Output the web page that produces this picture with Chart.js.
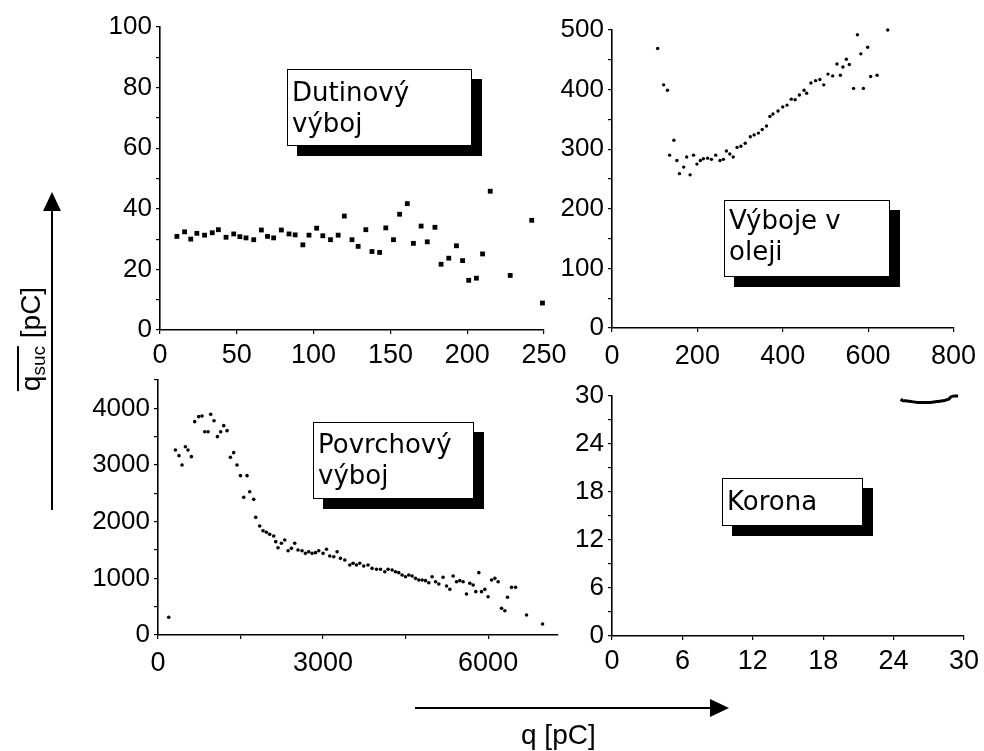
<!DOCTYPE html>
<html>
<head>
<meta charset="utf-8">
<script src="https://cdn.jsdelivr.net/npm/chart.js@4.4.1/dist/chart.umd.min.js"></script>
<style>
  body { margin: 0; background: #fff; }
  #wrap { position: relative; width: 984px; height: 751px; overflow: hidden; background: #fff; }
  canvas { position: absolute; left: 0; top: 0; }
  .note {
    position: absolute; box-sizing: border-box; background: #fff;
    border: 1.5px solid #000; box-shadow: 10px 10px 0 #000;
    font-family: "DejaVu Sans", sans-serif; font-size: 26px; line-height: 31px;
    color: #000; padding-left: 4px; white-space: nowrap; z-index: 5;
  }
  .title { position: absolute; font-family: "Liberation Sans", Arial, sans-serif; font-size: 28px; color: #000; white-space: nowrap; z-index: 5; }
  .ov { display: inline-block; border-top: 2px solid #000; line-height: 24px; }
  .ov sub { font-size: 19px; vertical-align: -5px; line-height: 0; }
  svg { position: absolute; left: 0; top: 0; z-index: 4; }
</style>
</head>
<body>
<div id="wrap">
  <canvas id="tl" width="984" height="751"></canvas>
  <canvas id="tr" width="984" height="751"></canvas>
  <canvas id="bl" width="984" height="751"></canvas>
  <canvas id="br" width="984" height="751"></canvas>

  <div class="note" style="left:287px; top:69px; width:185px; height:77px; padding-top:7px;">Dutinový<br>výboj</div>
  <div class="note" style="left:724px; top:200px; width:166px; height:77px; padding-top:4px;">Výboje v<br>oleji</div>
  <div class="note" style="left:313px; top:422px; width:161px; height:77px; padding-top:6px;">Povrchový<br>výboj</div>
  <div class="note" style="left:722px; top:478px; width:141px; height:48px; padding-top:7px;">Korona</div>

  <div class="title" style="left:31px; top:339px; transform: translate(-50%, -50%) rotate(-90deg);"><span class="ov">q<sub>suc</sub></span> [pC]</div>
  <div class="title" style="left:521px; top:721px; line-height:28px;">q [pC]</div>

  <svg width="984" height="751">
    <line x1="52" y1="510" x2="52" y2="208" stroke="#000" stroke-width="2"/>
    <polygon points="52,192 43,211 61,211" fill="#000"/>
    <line x1="415" y1="708" x2="714" y2="708" stroke="#000" stroke-width="2"/>
    <polygon points="729,708 710,699 710,717" fill="#000"/>
  </svg>
</div>

<script>
// ---- Dutinový výboj (top left)
const tlX = [11,16,20,24,29,34,38,43,48,52,56,61,66,70,74,79,84,88,93,97,102,106,111,116,120,125,129,134,138,143,147,152,156,161,165,170,174,179,183,188,193,197,201,206,210,215,228,242,249];
const tlY = [30.9,32.4,30.0,31.9,31.3,32.1,33.1,30.6,31.7,30.8,30.4,29.8,33.0,30.9,30.4,33.0,31.7,31.4,28.1,31.3,33.6,31.1,29.8,31.3,37.6,29.8,27.6,33.1,25.9,25.6,33.7,29.8,38.2,41.7,28.6,34.3,29.1,33.9,21.7,23.7,27.8,22.9,16.4,17.1,25.1,45.8,18.0,36.2,8.9];

// ---- Výboje v oleji (top right)
const trX = [107,121,130,135,145,152,158,168,175,183,191,199,207,214,224,233,243,253,261,268,276,284,293,302,312,324,333,343,352,362,370,377,389,400,410,420,429,439,450,456,466,477,487,496,506,517,527,535,541,549,556,566,575,583,589,599,606,621,646];
const trY = [469,408,399,290,315,281,259,270,287,257,290,275,281,284,285,283,290,281,283,297,292,287,303,305,310,321,324,327,333,339,355,359,364,371,374,384,383,391,399,394,411,415,417,408,426,423,443,424,438,451,442,402,492,460,402,471,422,424,500];

// ---- Povrchový výboj (bottom left)
const blX = [195,316,382,436,498,545,607,667,740,800,849,909,958,1018,1080,1140,1195,1255,1316,1376,1436,1498,1618,1558,1667,1740,1776,1849,1909,1970,2030,2103,2140,2182,2243,2304,2364,2425,2485,2545,2618,2680,2740,2800,2862,2922,3000,3062,3122,3195,3255,3316,3395,3485,3545,3607,3667,3740,3818,3891,3971,4044,4122,4182,4255,4316,4376,4436,4498,4558,4618,4680,4740,4800,4862,4922,4982,5044,5104,5182,5244,5304,5364,5426,5485,5545,5607,5667,5727,5776,5831,5880,5940,6000,6062,6122,6182,6244,6304,6353,6425,6498,6698,6989];
const blY = [312,3265,3165,3000,3323,3265,3147,3765,3853,3865,3588,3588,3894,3782,3500,3588,3694,3606,3135,3218,3000,2812,2812,2429,2529,2394,2076,1923,1841,1812,1776,1747,1647,1541,1618,1676,1488,1529,1618,1500,1488,1441,1470,1441,1453,1488,1441,1512,1394,1382,1470,1353,1323,1235,1265,1235,1265,1218,1235,1176,1159,1159,1117,1159,1147,1117,1100,1059,1029,1059,1041,1000,971,971,959,923,1029,941,900,1018,865,806,1041,941,959,941,724,912,882,765,1100,765,806,676,971,1000,941,470,429,665,841,841,353,194];
const blXTicks = [0,1500,3000,4500,6000];

// ---- Korona (bottom right)
const brX = [24.6,24.8,25.0,25.5,26.0,26.6,27.1,27.7,28.2,28.7,28.9,29.2,29.5];
const brY = [29.6,29.4,29.4,29.3,29.2,29.2,29.2,29.3,29.4,29.6,29.9,30.0,30.0];

const pts = (xs, ys) => xs.map((x, i) => ({ x: x, y: ys[i] }));
const fontFam = "'Liberation Sans', Arial, sans-serif";

function axis(min, max, step, every, pad, size, fitFn) {
      return {
            type: 'linear', min: min, max: max,
            ticks: {
                  stepSize: step, autoSkip: false, maxRotation: 0, padding: pad,
                  color: '#000', font: { family: fontFam, size: size },
                  callback: v => (Math.round(v / every) * every === v ? String(v) : '')
            },
            grid: { drawOnChartArea: false, drawTicks: true, tickLength: 4, color: '#000', lineWidth: 1.2 },
            border: { display: true, color: '#000', width: 1.6 },
            afterFit: fitFn
      };
}

function panel(id, data, pad, xAxis, yAxis, ds) {
      new Chart(document.getElementById(id), {
            type: 'scatter',
            data: { datasets: [Object.assign({ data: data, backgroundColor: '#000', borderColor: '#000', borderWidth: 0, clip: false }, ds)] },
            options: {
                  responsive: false, animation: false, devicePixelRatio: 1,
                  layout: { padding: pad },
                  scales: { x: xAxis, y: yAxis },
                  plugins: { legend: { display: false }, tooltip: { enabled: false } }
            }
      });
}

const fitY = w => s => { s.width = w; };
const fitX = s => { s.height = 40; };

panel('tl', pts(tlX, tlY), { left: 90, right: 440, top: 27, bottom: 381 },
      axis(0, 250, 50, 50, 5, 27, fitX), axis(0, 100, 10, 20, 4, 26, fitY(70)),
      { pointStyle: 'rect', pointRadius: 3.4 });

panel('tr', pts(trX, trY), { left: 552, right: 24, top: 30, bottom: 383 },
      axis(0, 800, 200, 200, 8, 27, fitX), axis(0, 500, 50, 100, 4, 26, fitY(60)),
      { pointStyle: 'circle', pointRadius: 1.7 });

const blx = axis(0, 7270, 1500, 3000, 8, 27, fitX);
blx.afterBuildTicks = s => { s.ticks = blXTicks.map(v => ({ value: v })); };
panel('bl', pts(blX, blY), { left: 88, right: 426, top: 380, bottom: 76 },
      blx, axis(0, 4500, 500, 1000, 4, 26, fitY(70)),
      { pointStyle: 'circle', pointRadius: 1.8 });

panel('br', pts(brX, brY), { left: 552, right: 13, top: 396, bottom: 75 },
      axis(0, 30, 6, 6, 5, 27, fitX), axis(0, 30, 3, 6, 4, 26, fitY(60)),
      { showLine: true, pointRadius: 0, borderWidth: 3, tension: 0.3 });
</script>
</body>
</html>
